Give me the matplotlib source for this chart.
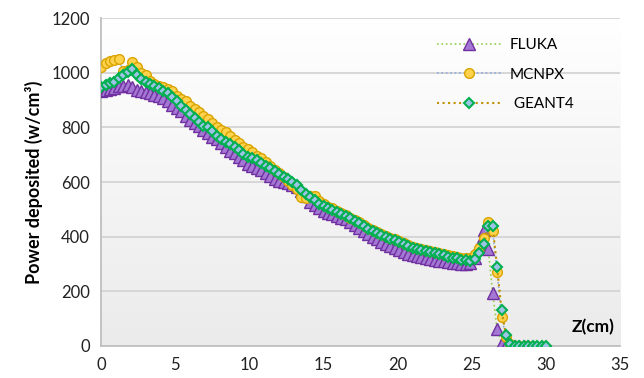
import numpy as np
import matplotlib
matplotlib.use("Agg")
import matplotlib.pyplot as plt

plt.rcParams['font.family'] = ['Lato', 'DejaVu Sans']

# depth grid step (cm)
step = 0.3

fluka = [935, 938, 942, 945, 950, 952, 955, 948, 938, 932,
         930, 925, 920, 915, 908, 895, 882, 872, 860, 843,
         828, 815, 805, 792, 780, 765, 756, 742, 730, 715,
         705, 692, 680, 667, 660, 652, 643, 633, 622, 612,
         605, 600, 595, 588, 580, 568, 548, 528, 515, 505,
         495, 488, 482, 476, 470, 463, 453, 442, 430, 420,
         410, 400, 390, 380, 372, 364, 357, 350, 344, 338,
         333, 329, 325, 321, 318, 315, 312, 309, 306, 304,
         302, 300, 299, 302, 320, 370, 425, 355, 195, 60,
         12, 2, 0, 0, 0, 0, 0]

mcnpx = [1020, 1035, 1043, 1048, 1050, 1005, 1010, 1038, 1020, 1000,
         990, 970, 958, 953, 948, 942, 935, 915, 905, 895,
         880, 868, 855, 842, 830, 815, 800, 792, 783, 770,
         755, 742, 730, 722, 710, 697, 688, 672, 660, 645,
         633, 620, 605, 590, 575, 545, 540, 548, 550, 530,
         520, 510, 505, 495, 488, 480, 470, 462, 452, 443,
         432, 425, 417, 410, 403, 396, 390, 383, 376, 368,
         362, 358, 354, 350, 346, 343, 340, 336, 332, 328,
         325, 322, 320, 322, 335, 360, 395, 452, 420, 272,
         105, 32, 6, 1, 0, 0, 0]

geant4 = [948, 955, 962, 968, 980, 992, 1003, 1012, 990, 978,
          967, 960, 952, 945, 935, 925, 910, 896, 880, 862,
          848, 835, 818, 805, 800, 785, 768, 757, 748, 738,
          728, 716, 702, 690, 688, 680, 670, 660, 650, 640,
          630, 620, 610, 600, 588, 572, 557, 545, 533, 520,
          512, 505, 498, 490, 482, 475, 467, 459, 450, 440,
          428, 420, 413, 406, 400, 393, 386, 380, 373, 366,
          359, 355, 351, 347, 343, 339, 335, 331, 327, 323,
          320, 316, 313, 310, 318, 340, 372, 440, 438, 290,
          130, 40, 8, 1, 0, 0, 0, 0, 0, 0,
          0]

z_fluka = np.arange(len(fluka)) * step
z_mcnpx = np.arange(len(mcnpx)) * step
z_geant4 = np.arange(len(geant4)) * step

fig = plt.figure(figsize=(6.44, 3.78), dpi=100)
ax = fig.add_axes([0.157, 0.085, 0.806, 0.867])

# gradient background
grad = np.linspace(0, 1, 256).reshape(-1, 1)
ax.imshow(grad, cmap=matplotlib.colors.LinearSegmentedColormap.from_list(
    'bg', ['#ffffff', '#ebebeb']), aspect='auto', extent=[0, 1, 0, 1],
    transform=ax.transAxes, zorder=0)

ax.plot(z_fluka, fluka, linestyle=':', color='#92d050', lw=1.2,
        marker='^', markersize=9, markerfacecolor='#a477d4',
        markeredgecolor='#7030a0', markeredgewidth=1.0, label='FLUKA', zorder=3)
ax.plot(z_mcnpx, mcnpx, linestyle=':', color='#8faadc', lw=1.2,
        marker='o', markersize=7, markerfacecolor='#ffd24d',
        markeredgecolor='#d9a300', markeredgewidth=1.0, label='MCNPX', zorder=4)
ax.plot(z_geant4, geant4, linestyle=':', color='#bf9000', lw=1.5,
        marker='D', markersize=5, markerfacecolor='#9dc3e6',
        markeredgecolor='#00b050', markeredgewidth=1.5, label=' GEANT4', zorder=5)

ax.set_xlim(0, 35)
ax.set_ylim(0, 1200)
ax.set_xticks(range(0, 36, 5))
ax.set_yticks(range(0, 1201, 200))
ax.tick_params(length=0, labelsize=12, colors='#222222', pad=8)
ax.yaxis.grid(True, color='#d4d4d4', lw=1.3)
ax.set_axisbelow(True)
for s in ['top', 'right']:
    ax.spines[s].set_visible(False)
ax.spines['left'].set_color('#bfbfbf')
ax.spines['bottom'].set_color('#bfbfbf')
ax.spines['left'].set_linewidth(1.3)
ax.spines['bottom'].set_linewidth(1.3)

ax.set_ylabel('Power deposited (w/cm³)', fontsize=13, fontweight='bold', labelpad=6)
ax.text(33.2, 38, 'Z(cm)', fontsize=12.5, fontweight='bold', ha='center', va='bottom')

leg = ax.legend(loc='upper left', bbox_to_anchor=(0.62, 0.98), frameon=False,
                fontsize=11, handlelength=4.2, labelspacing=1.0, handletextpad=0.6)

fig.savefig('out.png', dpi=100)
